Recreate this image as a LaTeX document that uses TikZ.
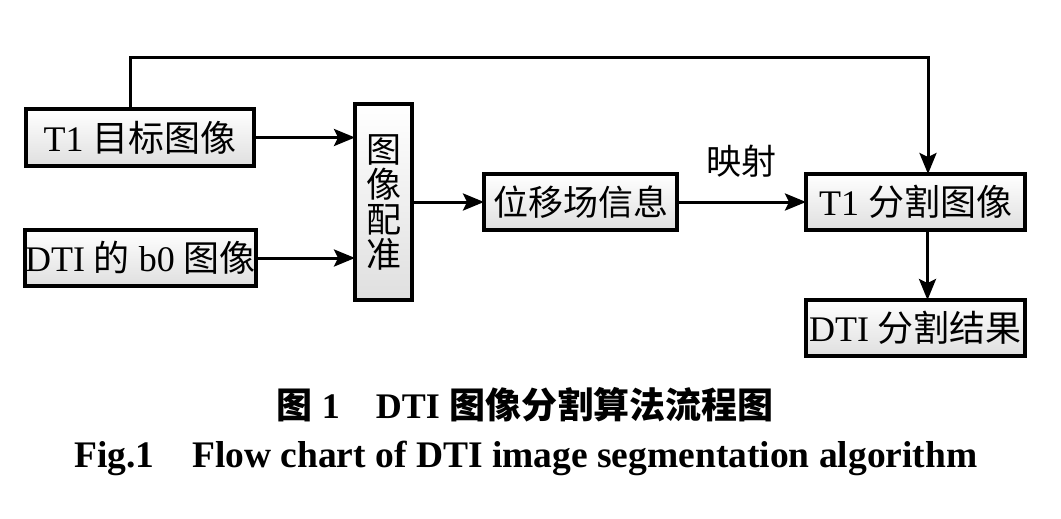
\documentclass[tikz,border=0pt]{standalone}
\usepackage{fontspec}
\setmainfont{Liberation Serif}
\newfontfamily\cjk{Noto Sans CJK SC}
\usetikzlibrary{arrows.meta}
\tikzset{
 box/.style={draw=black, line width=4pt, top color=white, bottom color=gray!25, inner sep=0pt, outer sep=0pt, font=\fontsize{36}{40}\selectfont},
 arr/.style={line width=3pt, -{Stealth[length=21pt,width=17pt,inset=4pt]}},
 lbl/.style={font=\fontsize{35}{40}\selectfont, inner sep=0pt},
 captext/.style={font=\fontsize{36}{40}\selectfont\bfseries, inner sep=0pt}
}
\begin{document}
\begin{tikzpicture}[x=1pt,y=-1pt]
\useasboundingbox[fill=white] (0,0) rectangle (1061,519);
\node[box, minimum width=228pt, minimum height=57pt] (t1) at (140,137.5) {T1 {\cjk 目标图像}};
\node[box, minimum width=229pt, minimum height=56pt] (b0) at (140.5,258) {DTI {\cjk 的} b0 {\cjk 图像}};
\node[box, minimum width=57pt, minimum height=196pt, align=center, font=\fontsize{35}{35}\selectfont\cjk] (reg) at (383.5,202) {图\\像\\配\\准};
\node[box, minimum width=193pt, minimum height=56pt, font=\fontsize{35}{40}\selectfont\cjk] (disp) at (580.5,202) {位移场信息};
\node[box, minimum width=219pt, minimum height=56pt] (seg) at (915.5,202) {T1 {\cjk 分割图像}};
\node[box, minimum width=219pt, minimum height=56pt] (res) at (915.5,328) {DTI {\cjk 分割结果}};
\node[lbl] (map) at (741,161) {\cjk 映射};
\coordinate (topy) at (0,58);
\draw[arr] (t1.east) -- (t1.east -| reg.west);
\draw[arr] (b0.east) -- (b0.east -| reg.west);
\draw[arr] (reg.east |- disp.west) -- (disp.west);
\draw[arr] (disp.east) -- (seg.west);
\draw[arr] ([xshift=12pt]seg.south) -- ([xshift=12pt]res.north);
\draw[arr] ([xshift=-10pt]t1.north) -- ([xshift=-10pt]t1.north |- topy) -| ([xshift=12.5pt]seg.north);
\node[captext] (cap1) at (525,405) {{\cjk 图} 1\quad DTI {\cjk 图像分割算法流程图}};
\node[captext, font=\fontsize{37.5}{42}\selectfont\bfseries] (cap2) at (526,458) {Fig.1\quad Flow chart of DTI image segmentation algorithm};
\end{tikzpicture}
\end{document}
